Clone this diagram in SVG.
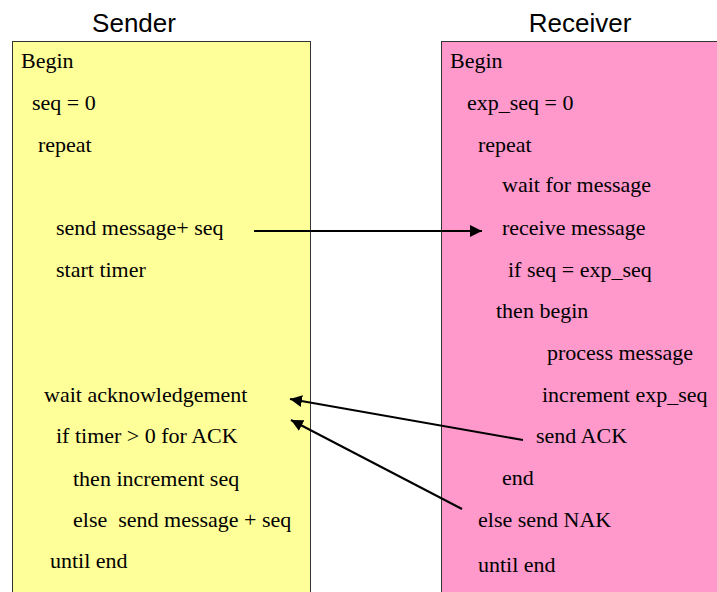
<svg xmlns="http://www.w3.org/2000/svg" width="717" height="592" viewBox="0 0 717 592">
<style>
.t{font-size:22px;fill:#000;white-space:pre}
.h{font-family:'Liberation Sans',Arial,sans-serif;font-size:26px;fill:#000;text-anchor:middle}
.box{stroke:#333;stroke-width:1}
.c{stroke:#000;stroke-width:2;fill:none;marker-end:url(#ah)}
</style>
<defs>
<marker id="ah" viewBox="0 0 10 10" refX="10" refY="5" markerWidth="6" markerHeight="6" orient="auto" markerUnits="strokeWidth">
<path d="M0,0 L10,5 L0,10 z" fill="#000"/>
</marker>
</defs>
<rect width="717" height="592" fill="#fff"/>
<g id="sender" font-family="Liberation Serif, DejaVu Serif, serif">
<text class="h" x="134" y="32">Sender</text>
<rect class="box" x="12.5" y="41.5" width="298" height="560" fill="#FFFF99"/>
<text class="t" x="21" y="68">Begin</text>
<text class="t" x="32" y="110">seq = 0</text>
<text class="t" x="38" y="152">repeat</text>
<text class="t" x="56" y="235">send message+ seq</text>
<text class="t" x="56" y="277">start timer</text>
<text class="t" x="44" y="402">wait acknowledgement</text>
<text class="t" x="56" y="443">if timer &gt; 0 for ACK</text>
<text class="t" x="73" y="486">then increment seq</text>
<text class="t" x="73" y="527" xml:space="preserve">else  send message + seq</text>
<text class="t" x="50" y="568">until end</text>
</g>
<g id="receiver" font-family="Liberation Serif, DejaVu Serif, serif">
<text class="h" x="580" y="32">Receiver</text>
<rect class="box" x="441.5" y="41.5" width="290" height="560" fill="#FF99CC"/>
<text class="t" x="450" y="68">Begin</text>
<text class="t" x="467" y="110">exp_seq = 0</text>
<text class="t" x="478" y="152">repeat</text>
<text class="t" x="502" y="192">wait for message</text>
<text class="t" x="502" y="235">receive message</text>
<text class="t" x="508" y="277">if seq = exp_seq</text>
<text class="t" x="496" y="318">then begin</text>
<text class="t" x="547" y="360">process message</text>
<text class="t" x="542" y="402">increment exp_seq</text>
<text class="t" x="536" y="443">send ACK</text>
<text class="t" x="502" y="485">end</text>
<text class="t" x="478" y="527">else send NAK</text>
<text class="t" x="478" y="572">until end</text>
</g>
<g id="connectors">
<line class="c" x1="254" y1="231" x2="482" y2="231"/>
<line class="c" x1="523" y1="440" x2="290" y2="399"/>
<line class="c" x1="462" y1="509" x2="291" y2="420"/>
</g>
</svg>
